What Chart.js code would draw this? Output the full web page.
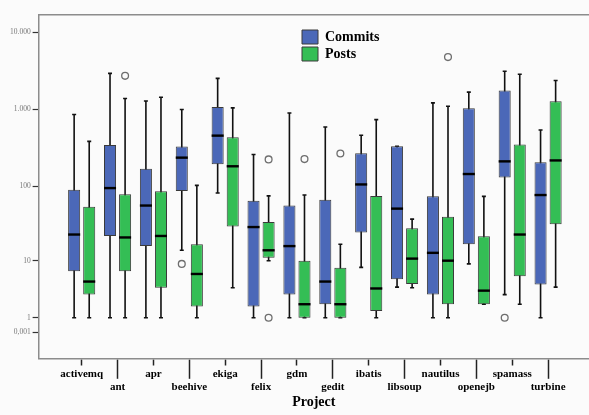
<!DOCTYPE html>
<html><head><meta charset="utf-8">
<script src="https://cdn.jsdelivr.net/npm/chart.js@4"></script>
<style>html,body{margin:0;padding:0;background:#fbfbfb;} #wrap{width:589px;height:415px;position:relative}</style>
</head><body><div id="wrap"><canvas id="c"></canvas></div>
<script>
const categories = ['activemq','ant','apr','beehive','ekiga','felix','gdm','gedit','ibatis','libsoup','nautilus','openejb','spamass','turbine'];

const commitsMin    = [1, 1, 1, 14, 82, 1, 1, 1, 8, 4, 1, 9, 3, 1];
const commitsQ1     = [7, 22, 16, 87, 194, 1.8, 3, 2, 24.5, 5.3, 3, 17, 131, 4.4];
const commitsMedian = [23, 95, 56, 237, 458, 29, 16, 4.9, 106, 51, 12.9, 145, 212, 77];
const commitsQ3     = [90, 346, 170, 330, 1080, 65, 56, 67, 270, 333, 74, 1040, 1770, 207];
const commitsMax    = [860, 2940, 1290, 1000, 2530, 260, 900, 593, 463, 333, 1220, 1680, 3140, 542];
const commitsOutliers = [[], [], [], [9], [], [], [], [], [], [], [], [], [1], []];

const postsMin    = [1, 1, 1, 1, 3.9, 10, 1, 1, 1, 3.9, 1, 2, 2, 4];
const postsQ1     = [3, 7, 3.9, 1.8, 29.5, 11, 1, 1, 1.45, 4.5, 2, 2, 5.9, 31.7];
const postsMedian = [4.9, 21, 22, 6.4, 183, 14, 2, 2, 3.8, 10.7, 10, 3.5, 23, 218];
const postsQ3     = [54, 79, 86, 17, 436, 34, 10, 7.9, 75, 28, 39.7, 21.8, 350, 1280];
const postsMax    = [386, 1390, 1440, 103, 1050, 75, 77, 17, 740, 37, 1100, 74, 2870, 2380];
const postsOutliers = [[], [2730], [], [], [], [225, 1], [227], [268], [], [], [4780], [], [], []];

const yTickValues = [0.001, 1, 10, 100, 1000, 10000];
const yTickLabels = ['0,001', '1', '10', '100', '1.000', '10.000'];

// SPSS-like "safe log" axis transform
function tf(v) {
  return v >= 1 ? Math.log10(v + 1) : Math.log10(2) * (1 + 0.21 * Math.log10(v));
}

const series = [
  {min: commitsMin, med: commitsMedian, max: commitsMax, out: commitsOutliers},
  {min: postsMin, med: postsMedian, max: postsMax, out: postsOutliers}
];

const boxParts = {
  id: 'boxParts',
  beforeDatasetsDraw(chart) {
    const ys = chart.scales.y, ctx = chart.ctx;
    ctx.save();
    ctx.strokeStyle = '#111';
    ctx.lineWidth = 1.6;
    series.forEach((s, d) => {
      chart.getDatasetMeta(d).data.forEach((bar, i) => {
        const x = bar.x;
        const y1 = ys.getPixelForValue(tf(s.max[i]));
        const y2 = ys.getPixelForValue(tf(s.min[i]));
        ctx.beginPath();
        ctx.moveTo(x, y1); ctx.lineTo(x, y2);
        ctx.moveTo(x - 2, y1); ctx.lineTo(x + 2, y1);
        ctx.moveTo(x - 2, y2); ctx.lineTo(x + 2, y2);
        ctx.stroke();
      });
    });
    ctx.restore();
  },
  afterDatasetsDraw(chart) {
    const ys = chart.scales.y, ctx = chart.ctx;
    ctx.save();
    series.forEach((s, d) => {
      chart.getDatasetMeta(d).data.forEach((bar, i) => {
        const x = bar.x, w = bar.width;
        const ym = ys.getPixelForValue(tf(s.med[i]));
        ctx.strokeStyle = '#000';
        ctx.lineWidth = 2.4;
        ctx.beginPath();
        ctx.moveTo(x - w / 2, ym); ctx.lineTo(x + w / 2, ym);
        ctx.stroke();
        s.out[i].forEach(v => {
          const yo = ys.getPixelForValue(tf(v));
          ctx.beginPath();
          ctx.arc(x, yo, 3.4, 0, Math.PI * 2);
          ctx.fillStyle = '#fbfbfb';
          ctx.fill();
          ctx.strokeStyle = '#6e6e6e';
          ctx.lineWidth = 1.3;
          ctx.stroke();
        });
      });
    });
    ctx.restore();
  }
};

const legendPlace = {
  id: 'legendPlace',
  afterLayout(chart) {
    const lg = chart.legend;
    if (!lg) return;
    const w = lg.width, h = lg.height;
    lg.left = 299; lg.right = 299 + w;
    lg.top = 27; lg.bottom = 27 + h;
  }
};

const serif = 'Liberation Serif';
const xMin = -1.2, xMax = 14.14;

new Chart(document.getElementById('c'), {
  type: 'bar',
  data: {
    datasets: [
      {
        label: 'Commits',
        data: categories.map((_, i) => ({x: i, y: [tf(commitsQ1[i]), tf(commitsQ3[i])]})),
        backgroundColor: '#4b68b8',
        borderColor: '#3a3a3a',
        borderWidth: 1,
        borderSkipped: false,
        categoryPercentage: 0.84,
        barPercentage: 0.8
      },
      {
        label: 'Posts',
        data: categories.map((_, i) => ({x: i, y: [tf(postsQ1[i]), tf(postsQ3[i])]})),
        backgroundColor: '#34be55',
        borderColor: '#3a3a3a',
        borderWidth: 1,
        borderSkipped: false,
        categoryPercentage: 0.84,
        barPercentage: 0.8
      }
    ]
  },
  options: {
    responsive: true,
    maintainAspectRatio: false,
    animation: false,
    layout: {padding: {left: 8, right: 0, top: 15, bottom: 4.2}},
    plugins: {
      tooltip: {enabled: false},
      legend: {
        position: 'chartArea',
        align: 'start',
        labels: {
          boxWidth: 16, boxHeight: 14, padding: 3,
          color: '#000',
          font: {family: serif, weight: 'bold', size: 14}
        }
      }
    },
    scales: {
      x: {
        type: 'linear', position: 'bottom', min: xMin, max: xMax,
        offset: false,
        afterBuildTicks: s => { s.ticks = categories.map((_, i) => ({value: i})); },
        ticks: {
          autoSkip: false, maxRotation: 0, minRotation: 0, padding: -11.6,
          color: '#000',
          font: {family: serif, weight: 'bold', size: 11},
          callback: (v, i) => (i % 2 ? ['', categories[i]] : categories[i])
        },
        grid: {
          display: true, offset: false, drawOnChartArea: false, drawTicks: true,
          tickLength: 20, tickWidth: 1.5, tickColor: '#222',
          tickBorderDash: ctx => (ctx.index % 2 ? [] : [6, 100])
        },
        border: {display: true, color: '#8c8c8c', width: 1.5},
        title: {
          display: true, text: 'Project', color: '#000',
          font: {family: serif, weight: 'bold', size: 14},
          padding: {top: 12, bottom: 0}
        }
      },
      xTop: {
        type: 'linear', position: 'top', min: xMin, max: xMax,
        offset: false,
        grid: {display: false, offset: false, drawTicks: false},
        ticks: {display: false},
        border: {display: true, color: '#8c8c8c', width: 1.5}
      },
      y: {
        type: 'linear', min: -0.23, max: 4.225,
        afterBuildTicks: s => { s.ticks = yTickValues.map(v => ({value: tf(v)})); },
        ticks: {
          autoSkip: false, padding: 2, color: '#777',
          font: {family: serif, size: 7.5},
          callback: (v, i) => yTickLabels[i]
        },
        grid: {display: true, drawOnChartArea: false, drawTicks: true, tickLength: 6, tickWidth: 1.2, tickColor: '#333'},
        border: {display: true, color: '#8c8c8c', width: 1.5}
      }
    }
  },
  plugins: [boxParts, legendPlace]
});
</script>
</body></html>
